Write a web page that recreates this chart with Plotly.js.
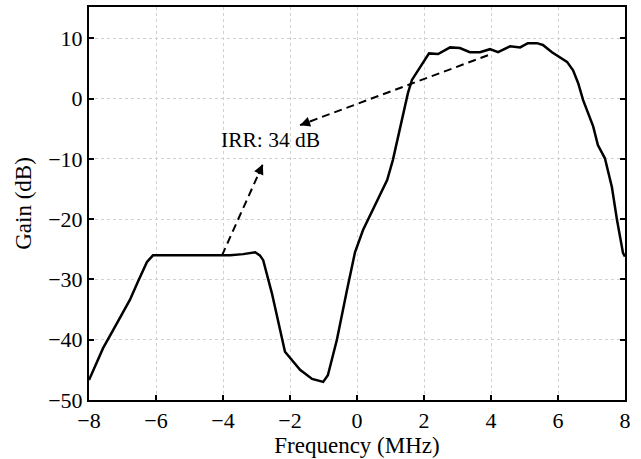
<!DOCTYPE html>
<html>
<head>
<meta charset="utf-8">
<script src="https://cdn.plot.ly/plotly-3.0.1.min.js"></script>
<style>html,body{margin:0;padding:0;background:#fff;}#chart{width:641px;height:459px;}</style>
</head>
<body>
<div id="chart"></div>
<script>
// Gain curve (frequency in MHz, gain in dB)
const freq = [-8, -7.58, -7.28, -6.78, -6.54, -6.27, -6.09, -5.5, -4.5, -4.09, -3.79, -3.4, -3.04, -2.9, -2.8, -2.54, -2.15, -2.0, -1.7, -1.34, -1.01, -0.87, -0.6, -0.3, -0.06, 0.18, 0.6, 0.9, 1.07, 1.22, 1.37, 1.52, 1.64, 1.82, 1.97, 2.15, 2.42, 2.78, 3.07, 3.37, 3.67, 3.97, 4.21, 4.57, 4.87, 5.1, 5.37, 5.55, 5.82, 6.06, 6.27, 6.45, 6.6, 6.75, 6.9, 7.05, 7.19, 7.4, 7.61, 7.76, 7.94, 8];
const gain = [-46.7, -41.4, -38.4, -33.4, -30.4, -27.1, -26.0, -26.0, -26.0, -26.0, -26.0, -25.8, -25.5, -26.0, -26.8, -32.3, -42.0, -43.0, -45.0, -46.5, -47.0, -45.9, -40.0, -31.8, -25.5, -21.8, -16.8, -13.5, -10.2, -6.4, -2.4, 0.9, 3.1, 4.7, 5.9, 7.5, 7.4, 8.5, 8.4, 7.7, 7.7, 8.2, 7.7, 8.7, 8.5, 9.2, 9.2, 8.9, 7.7, 6.9, 6.1, 4.7, 2.6, -0.25, -2.4, -4.6, -7.7, -9.9, -14.7, -20.1, -25.6, -26.2];

// Dashed arrows pointing to the IRR label
const arrow1X = [-4.03, -2.81];
const arrow1Y = [-26.0, -10.9];
const arrow2X = [3.91, -1.7];
const arrow2Y = [7.2, -4.4];
const labelText = 'IRR: 34 dB';
const labelX = -2.57;
const labelY = -6.9;

const xTicks = [-8, -6, -4, -2, 0, 2, 4, 6, 8];
const yTicks = [-50, -40, -30, -20, -10, 0, 10];

const font = 'Liberation Serif, Times New Roman, serif';

const traces = [
  {x: freq, y: gain, mode: 'lines', line: {color: '#000', width: 2.5}, showlegend: false, hoverinfo: 'skip'},
  {x: arrow1X, y: arrow1Y, mode: 'lines', line: {color: '#000', width: 2, dash: '8px,5px'}, showlegend: false, hoverinfo: 'skip'},
  {x: arrow2X, y: arrow2Y, mode: 'lines', line: {color: '#000', width: 2, dash: '8px,5px'}, showlegend: false, hoverinfo: 'skip'}
];

const layout = {
  width: 641, height: 459,
  margin: {l: 89, r: 16, t: 7, b: 59},
  paper_bgcolor: '#fff', plot_bgcolor: '#fff',
  font: {family: font, size: 22, color: '#000'},
  xaxis: {
    range: [-8, 8], tickvals: xTicks, ticktext: xTicks.map(v => v < 0 ? '\u2212' + Math.abs(v) : String(v)),
    ticks: 'inside', ticklen: 5, tickwidth: 2, tickcolor: '#000',
    showline: true, linecolor: '#000', linewidth: 2, mirror: true,
    showgrid: true, gridcolor: '#d0d0d0', gridwidth: 1, griddash: 'dot',
    zeroline: false,
    title: {text: 'Frequency (MHz)', font: {family: font, size: 23}, standoff: 0},
    tickfont: {family: font, size: 22}
  },
  yaxis: {
    range: [-50, 15.2], tickvals: yTicks, ticktext: yTicks.map(v => v < 0 ? '\u2212' + Math.abs(v) : String(v)),
    ticks: 'inside', ticklen: 5, tickwidth: 2, tickcolor: '#000',
    showline: true, linecolor: '#000', linewidth: 2, mirror: 'ticks',
    showgrid: true, gridcolor: '#d0d0d0', gridwidth: 1, griddash: 'dot',
    zeroline: false,
    title: {text: 'Gain (dB)', font: {family: font, size: 23}, standoff: 10},
    tickfont: {family: font, size: 22}
  },
  annotations: [
    {x: labelX, y: labelY, text: labelText, showarrow: false, font: {family: font, size: 21.5, color: '#000'}},
    {x: arrow1X[1], y: arrow1Y[1], text: '', showarrow: true, arrowhead: 2, arrowsize: 1, arrowwidth: 2, arrowcolor: '#000', ax: -5, ay: 11},
    {x: arrow2X[1], y: arrow2Y[1], text: '', showarrow: true, arrowhead: 2, arrowsize: 1, arrowwidth: 2, arrowcolor: '#000', ax: 11, ay: -4}
  ]
};

Plotly.newPlot('chart', traces, layout, {staticPlot: true, displayModeBar: false});
</script>
</body>
</html>
